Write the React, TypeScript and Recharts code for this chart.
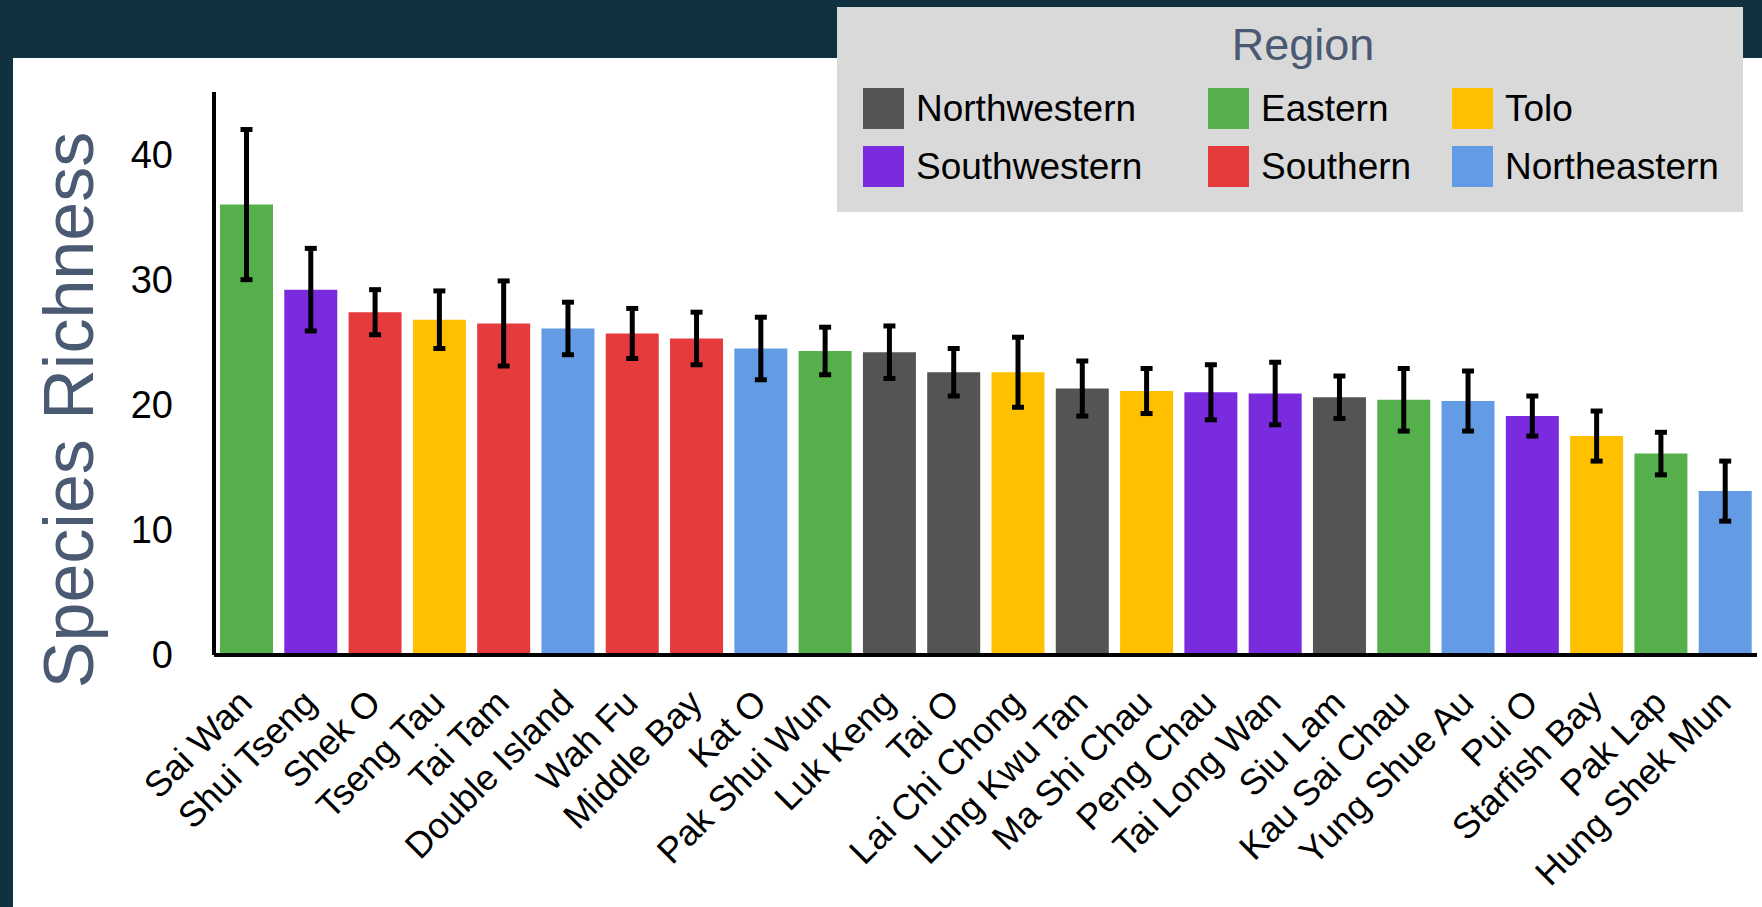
import { BarChart, Bar, XAxis, YAxis, Cell, ErrorBar, Legend } from 'recharts';

const FONT = '"Liberation Sans", Arial, Helvetica, sans-serif';

// sites, ordered by mean richness
const SITES = [
	'Sai Wan', 'Shui Tseng', 'Shek O', 'Tseng Tau', 'Tai Tam', 'Double Island',
	'Wah Fu', 'Middle Bay', 'Kat O', 'Pak Shui Wun', 'Luk Keng', 'Tai O',
	'Lai Chi Chong', 'Lung Kwu Tan', 'Ma Shi Chau', 'Peng Chau', 'Tai Long Wan', 'Siu Lam',
	'Kau Sai Chau', 'Yung Shue Au', 'Pui O', 'Starfish Bay', 'Pak Lap', 'Hung Shek Mun',
];

const RICHNESS = [
	36.0, 29.2, 27.4, 26.8, 26.5, 26.1,
	25.7, 25.3, 24.5, 24.3, 24.2, 22.6,
	22.6, 21.3, 21.1, 21.0, 20.9, 20.6,
	20.4, 20.3, 19.1, 17.5, 16.1, 13.1,
];

const RICHNESS_ERR = [
	6.0, 3.3, 1.8, 2.3, 3.4, 2.1,
	2.0, 2.1, 2.5, 1.9, 2.1, 1.9,
	2.8, 2.2, 1.8, 2.2, 2.5, 1.7,
	2.5, 2.4, 1.6, 2.0, 1.7, 2.4,
];

const SITE_REGION = [
	'Eastern', 'Southwestern', 'Southern', 'Tolo', 'Southern', 'Northeastern',
	'Southern', 'Southern', 'Northeastern', 'Eastern', 'Northwestern', 'Northwestern',
	'Tolo', 'Northwestern', 'Tolo', 'Southwestern', 'Southwestern', 'Northwestern',
	'Eastern', 'Northeastern', 'Southwestern', 'Tolo', 'Eastern', 'Northeastern',
];

// legend order: row by row, three columns
const REGIONS = ['Northwestern', 'Eastern', 'Tolo', 'Southwestern', 'Southern', 'Northeastern'];

const REGION_COLORS: Record<string, string> = {
	Northwestern: '#545454',
	Eastern: '#55b04b',
	Tolo: '#ffc000',
	Southwestern: '#792bdd',
	Southern: '#e53b3c',
	Northeastern: '#639ce4',
};

const Y_TICKS = [0, 10, 20, 30, 40];

const data = SITES.map((site, i) => ({
	site,
	richness: RICHNESS[i],
	err: RICHNESS_ERR[i],
	region: SITE_REGION[i],
}));

const SiteTick = ({ x, y, payload }: any) => {
	const ax = x + 8;
	const ay = y + 50;
	return (
		<text
			x={ax}
			y={ay}
			transform={`rotate(-45, ${ax}, ${ay})`}
			textAnchor="end"
			fontSize={36}
			fontFamily={FONT}
			fill="#000"
		>
			{payload.value}
		</text>
	);
};

const YTitle = () => (
	<text
		x={93}
		y={410}
		transform="rotate(-90, 93, 410)"
		textAnchor="middle"
		fontSize={70}
		fontFamily={FONT}
		fill="#4a5a72"
	>
		Species Richness
	</text>
);

const COL_X = [26, 371, 615];
const ROW_Y = [81, 139];

function RegionLegend() {
	return (
		<div
			style={{
				position: 'relative',
				width: 906,
				height: 205,
				background: '#d9d9d9',
				fontFamily: FONT,
			}}
		>
			<div
				style={{
					position: 'absolute',
					left: 366,
					top: 15,
					width: 200,
					textAlign: 'center',
					fontSize: 45,
					lineHeight: '45px',
					color: '#4a5a72',
				}}
			>
				Region
			</div>
			{REGIONS.map((region, i) => (
				<div
					key={region}
					style={{
						position: 'absolute',
						left: COL_X[i % 3],
						top: ROW_Y[Math.floor(i / 3)],
						height: 41,
						display: 'flex',
						alignItems: 'center',
					}}
				>
					<div
						style={{
							width: 41,
							height: 41,
							background: REGION_COLORS[region],
							marginRight: 12,
						}}
					/>
					<span style={{ fontSize: 37, color: '#000', whiteSpace: 'nowrap' }}>{region}</span>
				</div>
			))}
		</div>
	);
}

export default function App() {
	return (
		<div
			style={{
				position: 'fixed',
				left: 0,
				top: 0,
				width: 1762,
				height: 907,
				background: '#10313f',
				overflow: 'hidden',
			}}
		>
			<div
				style={{
					position: 'absolute',
					left: 13,
					top: 58,
					right: 0,
					bottom: 0,
					background: '#fff',
				}}
			/>
			<div style={{ position: 'absolute', left: 0, top: 0 }}>
				<BarChart
					width={1762}
					height={907}
					data={data}
					margin={{ top: 92, right: 5, bottom: 52, left: 0 }}
				>
					<XAxis
						dataKey="site"
						interval={0}
						height={200}
						tickLine={false}
						tickSize={0}
						tickMargin={0}
						axisLine={{ stroke: '#000', strokeWidth: 4 }}
						tick={(props: any) => <SiteTick {...props} />}
					/>
					<YAxis
						width={214}
						domain={[0, 45]}
						ticks={Y_TICKS}
						tickLine={false}
						tickMargin={35}
						axisLine={{ stroke: '#000', strokeWidth: 4 }}
						tick={{ fill: '#000', fontSize: 38, fontFamily: FONT }}
						label={<YTitle />}
					/>
					<Legend
						layout="vertical"
						verticalAlign="middle"
						align="center"
						wrapperStyle={{ left: 837, top: 7, width: 906, height: 205 }}
						content={() => <RegionLegend />}
					/>
					<Bar dataKey="richness" barSize={53} isAnimationActive={false}>
						{data.map((d) => (
							<Cell key={d.site} fill={REGION_COLORS[d.region]} />
						))}
						<ErrorBar
							dataKey="err"
							direction="y"
							width={6}
							stroke="#000"
							strokeWidth={5}
							isAnimationActive={false}
						/>
					</Bar>
				</BarChart>
			</div>
		</div>
	);
}
